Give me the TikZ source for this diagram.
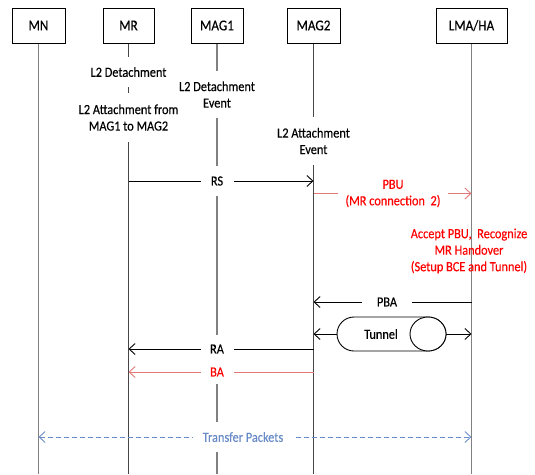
\documentclass[tikz,border=0pt]{standalone}
\usepackage{fontspec}
\setmainfont{Carlito}[FakeStretch=0.88, FakeBold=0.25]
\usetikzlibrary{arrows.meta}
\pgfdeclarelayer{bg}
\pgfsetlayers{bg,main}
\definecolor{lifegray}{RGB}{128,128,128}
\definecolor{lifedark}{RGB}{70,70,70}
\definecolor{txtred}{RGB}{255,0,0}
\definecolor{linered}{RGB}{224,120,120}
\definecolor{tpblue}{RGB}{105,140,200}
\begin{document}
\begin{tikzpicture}[x=1pt,y=-1pt,
  every node/.style={font=\fontsize{14}{16.5}\selectfont, align=center, inner sep=0pt},
  box/.style={draw=black, line width=0.9pt, fill=white, minimum height=35pt, font=\fontsize{15}{17}\selectfont},
  life/.style={draw=lifegray, line width=1.1pt},
  lifed/.style={draw=lifedark, line width=1.1pt},
  lbl/.style={fill=white},
  barb/.tip={Straight Barb[length=6pt,width=11pt]},
  msg/.style={line width=0.9pt, -barb},
  msgtwo/.style={line width=0.9pt, barb-barb},
  tpline/.style={draw=tpblue, line width=0.9pt, dash pattern=on 5pt off 3pt, barb-barb},
  tube/.style={draw=black, line width=0.9pt, fill=white}
]
\useasboundingbox (0,0) rectangle (535,474);
\coordinate (bot) at (0,474);
% actors
\node[box, minimum width=53pt] (mn) at (38.5,25.5) {MN};
\node[box, minimum width=51pt] (mr) at (128.5,25.5) {MR};
\node[box, minimum width=52pt] (mag1) at (217,25.5) {MAG1};
\node[box, minimum width=53pt] (mag2) at (313.5,25.5) {MAG2};
\node[box, minimum width=71pt] (lma) at (471.5,25.5) {LMA/HA};
% labels
\node[lbl, minimum width=90pt, minimum height=30pt] (mrdet) at (128.5,72) {L2 Detachment};
\node[lbl, minimum height=49pt] (mratt) at (128.5,117.5) {L2 Attachment from\\MAG1 to MAG2};
\node[lbl, minimum height=47pt] (magonedet) at (217,94.5) {L2 Detachment\\Event};
\node[lbl, minimum height=48pt] (magtwoatt) at (313.5,141) {L2 Attachment\\Event};
\node[lbl, minimum width=33pt, minimum height=30pt] (rs) at (217,181) {RS};
\node[lbl, text=txtred, minimum width=110pt] (pbu) at (393,193.5) {PBU\\(MR connection\ \ 2)};
\node[text=txtred] (acc) at (469,251) {Accept PBU,\ \ Recognize\\MR Handover\\(Setup BCE and Tunnel)};
\node[lbl, minimum width=50pt, minimum height=20pt] (pba) at (387,302) {PBA};
% tunnel (horizontal cylinder)
\draw[tube] (428,317) -- (354,317) arc[start angle=270, end angle=90, radius=17]
  -- (428,351) arc[start angle=90, end angle=-90, x radius=18, y radius=17] -- cycle;
\draw[tube] (428,334) ellipse[x radius=18, y radius=17];
\node (tun) at (381,334) {Tunnel};
\node[lbl, minimum width=33pt, minimum height=28pt] (ra) at (217,349) {RA};
\node[lbl, text=txtred, minimum width=33pt, minimum height=24pt] (ba) at (217,372) {BA};
\node[lbl, text=tpblue, minimum width=100pt, minimum height=30pt] (tp) at (243,437) {Transfer Packets};
\begin{pgfonlayer}{bg}
\draw[life] (mn.south) -- (mn |- bot);
\draw[lifed] (mr.south) -- (mr |- bot);
\draw[life] (mag1.south) -- (mag1 |- bot);
\draw[lifed] (mag2.south) -- (mag2 |- bot);
\draw[life] (lma.south) -- (lma |- bot);
\draw[msg] (mr |- rs) -- (mag2 |- rs);
\draw[msg, linered] (mag2 |- pbu) -- (lma |- pbu);
\draw[msg] (lma |- pba) -- (mag2 |- pba);
\draw[msgtwo] (mag2 |- tun) -- (lma |- tun);
\draw[msg] (mag2 |- ra) -- (mr |- ra);
\draw[msg, linered] (mag2 |- ba) -- (mr |- ba);
\draw[tpline] (mn |- tp) -- (lma |- tp);
\end{pgfonlayer}
\end{tikzpicture}
\end{document}
